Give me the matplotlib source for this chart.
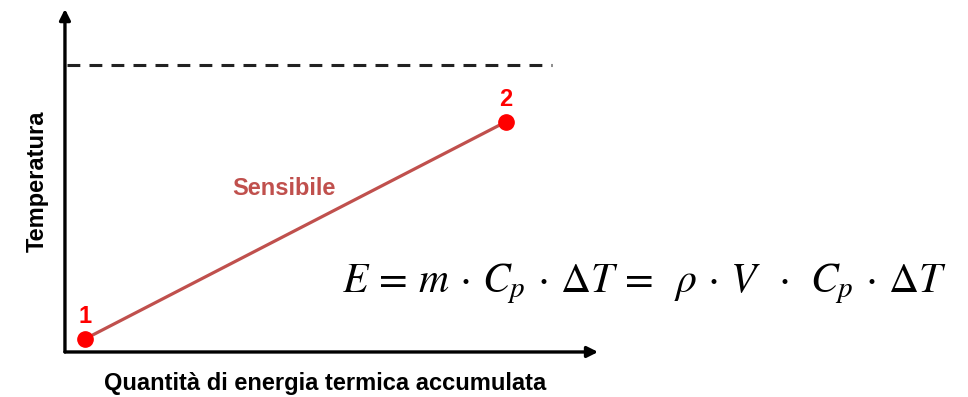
import matplotlib.pyplot as plt

plt.rcParams['mathtext.fontset'] = 'stix'

# points of the sensible heat line (arbitrary units, axes go 0..10)
energy = [0.377, 8.32]
temperature = [0.379, 6.71]
point_labels = ['1', '2']

# dashed upper limit
limit_x = [0.04, 9.19]
limit_y = [8.37, 8.37]

fig = plt.figure(figsize=(9.68, 3.97), dpi=100)
ax = fig.add_axes([0.0671, 0.1134, 0.5475, 0.864])
ax.set_xlim(0, 10)
ax.set_ylim(0, 10)
ax.axis('off')

# axes with arrows
for tip in [(1.006, 0), (0, 1.0)]:
    ax.annotate('', xy=tip, xytext=(0, 0), xycoords='axes fraction',
                arrowprops=dict(arrowstyle='-|>', color='black', lw=2.4,
                                mutation_scale=16, shrinkA=0, shrinkB=0))

ax.plot(limit_x, limit_y, '--', color='#222222', lw=2.2, dashes=(4.2, 3.0))
ax.plot(energy, temperature, '-', color='#c0504d', lw=2.3, zorder=3)
ax.plot(energy, temperature, 'o', color='#ff0000', markersize=11, zorder=4)

for x, y, lab in zip(energy, temperature, point_labels):
    ax.annotate(lab, (x, y), xytext=(0, 16), textcoords='offset points',
                color='#ff0000', fontsize=17, fontweight='bold',
                family='Liberation Sans', ha='center', va='center')

ax.text(4.13, 4.78, 'Sensibile', color='#c0504d', fontsize=17, fontweight='bold',
        family='Liberation Sans', ha='center', va='center')

fig.text(0.038, 0.544, 'Temperatura', rotation=90, fontsize=17, fontweight='bold',
         family='Liberation Sans', ha='center', va='center')
fig.text(0.336, 0.033, 'Quantità di energia termica accumulata', fontsize=17,
         fontweight='bold', family='Liberation Sans', ha='center', va='center')

fig.text(0.6655, 0.2645,
         r'$E\,=\,m\,\cdot\,C_p\,\cdot\,\Delta T\,=\;\;\rho\,\cdot\,V\;\;\cdot\;\,C_p\,\cdot\,\Delta T$',
         fontsize=30, ha='center', va='baseline')

fig.savefig('out.png', dpi=100)
